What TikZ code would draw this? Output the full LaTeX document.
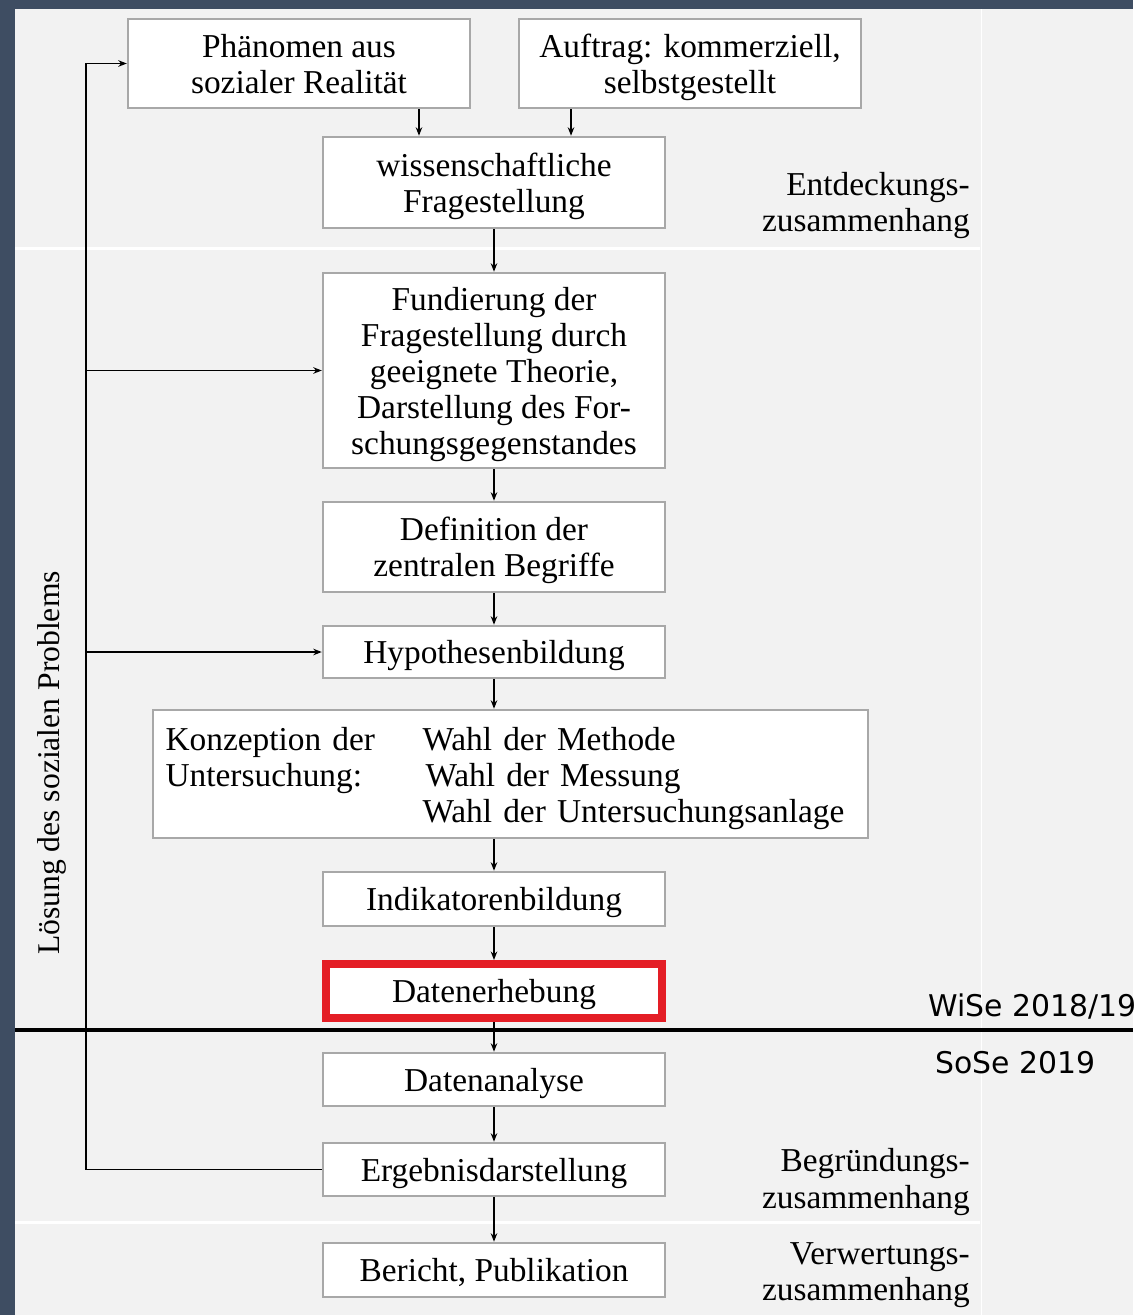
\documentclass[tikz,border=0pt]{standalone}
\usepackage{fontspec}
\setmainfont{Liberation Serif}
\newfontfamily\semfont{DejaVu Sans}
\usetikzlibrary{arrows.meta}
\definecolor{slate}{RGB}{62,77,98}
\definecolor{panel}{RGB}{242,242,242}
\definecolor{boxline}{RGB}{168,168,168}
\definecolor{markred}{RGB}{228,30,38}

\begin{document}
\begin{tikzpicture}[x=0.02cm,y=-0.02cm,
	box/.style={draw=boxline,line width=0.05cm,fill=white,minimum width=6.84cm,
		align=center,inner sep=0pt,text depth=0pt,font=\fontsize{19}{20.5}\selectfont},
	lbl/.style={align=right,anchor=east,font=\fontsize{19}{20.5}\selectfont},
	sem/.style={anchor=west,font=\semfont\fontsize{17}{20}\selectfont},
	flow/.style={->,line width=0.8pt},
	>={Stealth[length=0.17cm,width=0.13cm]}]
	\useasboundingbox (0,0) rectangle (1133,1315);
	\fill[slate] (0,0) rectangle (1133,1315);
	\fill[panel] (15,9) rectangle (1133,1315);
	\draw[white,line width=0.06cm] (15,248) -- (980,248);
	\draw[white,line width=0.06cm] (15,1222) -- (980,1222);
	\draw[white,line width=0.02cm] (981,9) -- (981,1315);

	\node[box,minimum height=1.78cm] (phaen) at (299,63.5) {Phänomen aus\\sozialer Realität};
	\node[box,minimum height=1.78cm] (auftrag) at (690,63.5) {Auftrag: kommerziell,\\selbstgestellt};
	\node[box,minimum height=1.82cm] (fragen) at (494,182.5) {wissenschaftliche\\Fragestellung};
	\node[box,minimum height=3.9cm] (fund) at (494,370.5) {Fundierung der\\Fragestellung durch\\geeignete Theorie,\\Darstellung des For-\\schungsgegenstandes};
	\node[box,minimum height=1.8cm] (defin) at (494,547) {Definition der\\zentralen Begriffe};
	\node[box,minimum height=1.04cm] (hypo) at (494,652) {Hypothesenbildung};
	\node[box,minimum width=14.3cm,minimum height=2.56cm,text width=13.8cm,
		inner xsep=0.24cm,align=left] (konz) at (510.5,774)
		{\begin{tabular}[b]{@{}p{5.14cm}@{}l@{}}
			Konzeption der & Wahl der Methode\\
			Untersuchung: & \hspace{0.06cm}Wahl der Messung\\
			& Wahl der Untersuchungsanlage
		\end{tabular}};
	\node[box,minimum height=1.08cm] (indik) at (494,899) {Indikatorenbildung};
	\node[box,draw=markred,line width=0.16cm,minimum width=6.74cm,minimum height=1.08cm] (daten) at (494,991) {Datenerhebung};
	\node[box,minimum height=1.06cm] (analyse) at (494,1079.5) {Datenanalyse};
	\node[box,minimum height=1.06cm] (ergeb) at (494,1169.5) {Ergebnisdarstellung};
	\node[box,minimum height=1.08cm] (bericht) at (494,1270) {Bericht, Publikation};

	\node[lbl] (entd) at (976,206) {Entdeckungs-\\zusammenhang};
	\node[lbl] (begr) at (976,1182) {Begründungs-\\zusammenhang};
	\node[lbl] (verw) at (976,1275) {Verwertungs-\\zusammenhang};
	\node[rotate=90,font=\fontsize{18}{20}\selectfont] (loesung) at (52,763) {Lösung des sozialen Problems};

	\draw[line width=0.08cm] (15,1030) -- (1133,1030);
	\node[sem] (wise) at (922,1007) {WiSe 2018/19};
	\node[sem] (sose) at (929,1063) {SoSe 2019};

	\draw[flow] ([xshift=2.4cm]phaen.south) -- ([xshift=2.4cm]phaen.south |- fragen.north);
	\draw[flow] ([xshift=-2.38cm]auftrag.south) -- ([xshift=-2.38cm]auftrag.south |- fragen.north);
	\draw[flow] (fragen) -- (fund);
	\draw[flow] (fund) -- (defin);
	\draw[flow] (defin) -- (hypo);
	\draw[flow] (hypo.south) -- (hypo.south |- konz.north);
	\draw[flow] (konz.south -| indik.north) -- (indik.north);
	\draw[flow] (indik) -- (daten);
	\draw[flow] (daten) -- (analyse);
	\draw[flow] (analyse) -- (ergeb);
	\draw[flow] (ergeb) -- (bericht);

	\coordinate (back) at (86,1169.5);
	\draw[flow] (ergeb.west) -- (back) |- (phaen.west);
	\draw[flow] (back |- fund.west) -- (fund.west);
	\draw[flow] (back |- hypo.west) -- (hypo.west);
\end{tikzpicture}
\end{document}
